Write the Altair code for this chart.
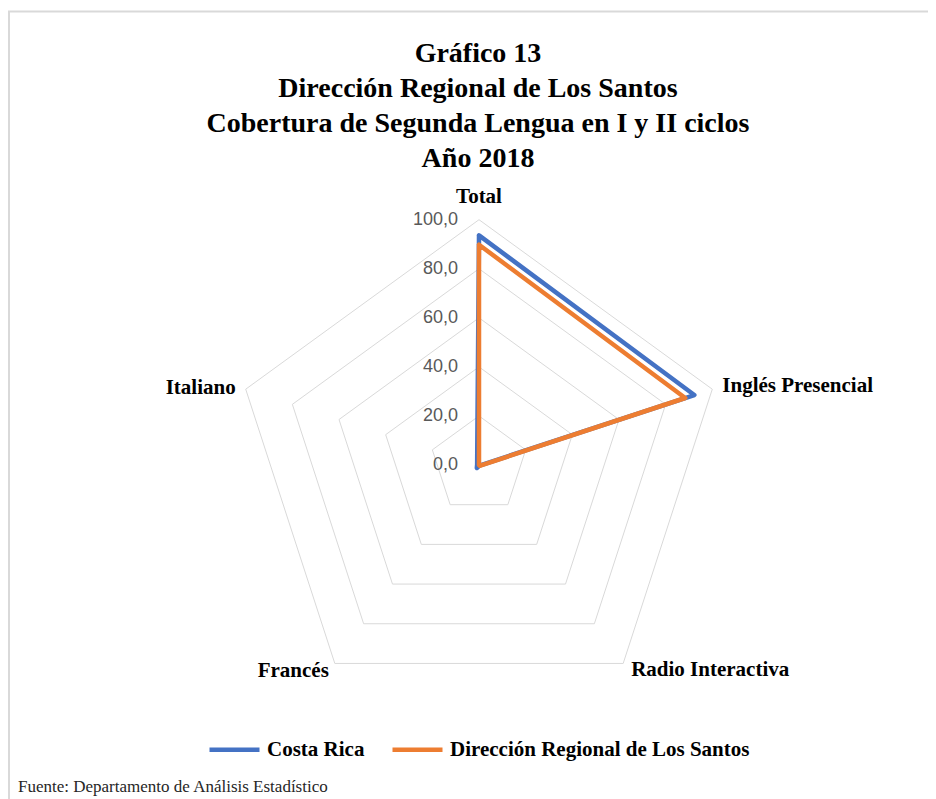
import altair as alt
import pandas as pd

# ---------------- data ----------------
categories = ["Total", "Inglés Presencial", "Radio Interactiva", "Francés", "Italiano"]
series_names = ["Costa Rica", "Dirección Regional de Los Santos"]
costa_rica = [93.6, 92.3, 0.3, 1.5, 0.8]
dr_los_santos = [89.8, 88.4, 0.4, 0.0, 0.0]
grid_levels = [20, 40, 60, 80, 100]
tick_values = [0, 20, 40, 60, 80, 100]
tick_labels = ["0,0", "20,0", "40,0", "60,0", "80,0", "100,0"]
title_lines = [
    "Gráfico 13",
    "Dirección Regional de Los Santos",
    "Cobertura  de Segunda Lengua en I y II ciclos",
    "Año 2018",
]
source_note = "Fuente: Departamento de Análisis Estadístico"

# ---------------- layout / style ----------------
colors = ["#4472C4", "#ED7D31"]
W, H = 920, 791
CX, CY = 471, 457          # centre of the radar, in plot pixels
K = 2.453                  # pixels per value unit
xdom = [-CX / K, (W - CX) / K]
ydom = [-(H - CY) / K, CY / K]
label_style = {             # align, dx, dy
    "Total": ("center", 0, -23),
    "Inglés Presencial": ("left", 10, -3),
    "Radio Interactiva": ("left", 8, 7),
    "Francés": ("right", -6, 8),
    "Italiano": ("right", -10, -1),
}
SERIF = "Liberation Serif"

# ---------------- tables ----------------
rows = []
for s, vals in zip(series_names, [costa_rica, dr_los_santos]):
    for i in range(6):
        j = i % 5
        rows.append({"serie": s, "categoria": categories[j], "idx": j, "ord": i, "valor": vals[j]})
series_df = pd.DataFrame(rows)

grid_rows = []
for lv in grid_levels:
    for i in range(6):
        grid_rows.append({"nivel": lv, "idx": i % 5, "ord": i, "valor": lv})
grid_df = pd.DataFrame(grid_rows)

tick_df = pd.DataFrame({"valor": tick_values, "etiqueta": tick_labels})
cat_df = pd.DataFrame({"categoria": categories, "idx": list(range(5)), "valor": [100] * 5})

xs = alt.Scale(domain=xdom, nice=False, zero=False)
ys = alt.Scale(domain=ydom, nice=False, zero=False)
X = alt.X("px:Q", scale=xs, axis=None)
Y = alt.Y("py:Q", scale=ys, axis=None)


def polar(ch):
    return ch.transform_calculate(
        px="datum.valor*sin(datum.idx*2*PI/5)",
        py="datum.valor*cos(datum.idx*2*PI/5)",
    )


grid = polar(alt.Chart(grid_df)).mark_line(color="#D9D9D9", strokeWidth=1).encode(
    x=X, y=Y, detail="nivel:N", order="ord:Q"
)

color = alt.Color(
    "serie:N",
    scale=alt.Scale(domain=series_names, range=colors),
    legend=alt.Legend(
        orient="none", legendX=199, legendY=714, direction="horizontal", title=None,
        symbolType="stroke", symbolSize=2500, symbolStrokeWidth=4.5,
        labelFont=SERIF, labelFontWeight="bold", labelFontSize=21, labelColor="#000000",
        labelLimit=0, columnPadding=18, labelOffset=5, padding=0,
    ),
)

lines = []
for s in series_names:
    lines.append(
        polar(alt.Chart(series_df)).transform_filter(alt.datum.serie == s)
        .mark_line(strokeWidth=4.5, strokeJoin="round", strokeCap="round")
        .encode(x=X, y=Y, color=color, order="ord:Q")
    )

ticks = alt.Chart(tick_df).transform_calculate(px="0", py="datum.valor").mark_text(
    align="right", baseline="middle", dx=-21, font="Liberation Sans", fontSize=18, color="#595959"
).encode(x=X, y=Y, text="etiqueta:N")

cat_layers = []
for c in categories:
    al, dx, dy = label_style[c]
    cat_layers.append(
        polar(alt.Chart(cat_df)).transform_filter(alt.datum.categoria == c)
        .mark_text(align=al, baseline="middle", dx=dx, dy=dy, font=SERIF,
                   fontWeight="bold", fontSize=21, color="#000000")
        .encode(x=X, y=Y, text="categoria:N")
    )

title_layers = []
for i, t in enumerate(title_lines):
    title_layers.append(
        alt.Chart(pd.DataFrame({"t": [t]})).mark_text(
            align="center", baseline="alphabetic", font=SERIF, fontWeight="bold",
            fontSize=28, color="#000000"
        ).encode(x=alt.value(470), y=alt.value(54 + 35 * i), text="t:N")
    )

note = alt.Chart(pd.DataFrame({"t": [source_note]})).mark_text(
    align="left", baseline="middle", font=SERIF, fontSize=17, color="#262626"
).encode(x=alt.value(10), y=alt.value(779), text="t:N")

frame_top = alt.Chart(pd.DataFrame({"a": [0]})).mark_rule(color="#D9D9D9", strokeWidth=2).encode(
    x=alt.value(0), x2=alt.value(W), y=alt.value(3.5)
)
frame_left = alt.Chart(pd.DataFrame({"a": [0]})).mark_rule(color="#D9D9D9", strokeWidth=2).encode(
    x=alt.value(1), y=alt.value(3.5), y2=alt.value(H)
)

chart = alt.layer(
    frame_top, frame_left, grid, *lines, ticks, *cat_layers, *title_layers, note
).properties(
    width=W, height=H, autosize=alt.AutoSizeParams(type="none"),
    padding={"left": 0, "top": 0, "right": 0, "bottom": 0}, background="white",
).configure_view(stroke=None)

chart.save("out.html", embed_options={"renderer": "svg", "actions": False})
